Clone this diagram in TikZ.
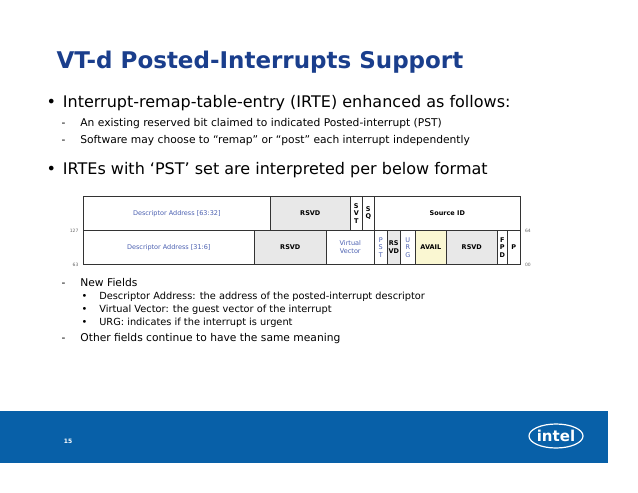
\documentclass[tikz,border=0pt]{standalone}
\usepackage{fontspec}
\setmainfont{DejaVu Sans}
\usetikzlibrary{positioning}
\definecolor{titleblue}{HTML}{1A3E8C}
\definecolor{intelblue}{HTML}{0860A8}
\definecolor{fieldblue}{HTML}{4A5FB0}
\definecolor{rsvdgray}{HTML}{E8E8E8}
\definecolor{availyellow}{HTML}{FAF7D2}
\tikzset{
  field/.style={draw=black!80, line width=0.6pt, anchor=north west, inner sep=0pt, align=center, font=\fontsize{6.5}{7.5}\selectfont},
  rsvd/.style={field, fill=rsvdgray, font=\fontsize{6.5}{7.5}\selectfont\bfseries},
  blue field/.style={field, text=fieldblue},
  bitno/.style={font=\fontsize{4.5}{5}\selectfont, text=black!60},
  bullet/.style={anchor=west, font=\fontsize{16}{18}\selectfont},
  sub/.style={anchor=west, font=\fontsize{10.7}{12}\selectfont},
  item/.style={anchor=west, font=\fontsize{9.8}{11}\selectfont},
}
\newcommand{\fieldbox}[6]{% name, style, x1, x2, y, text
  \node[#2, minimum width=#4pt-#3pt, minimum height=34pt] (#1) at (#3, #5) {#6};}
\begin{document}
\begin{tikzpicture}[x=1pt, y=-1pt]
    \useasboundingbox (0,0) rectangle (638,493);

    % Title and bullets
    \node[anchor=west, text=titleblue, font=\fontsize{23}{25}\selectfont\bfseries] (title) at (53, 62) {VT-d Posted-Interrupts Support};
    \node[bullet] (b1) at (43, 103) {•\hspace{7pt}Interrupt-remap-table-entry (IRTE) enhanced as follows:};
    \node[sub] (s1) at (58, 124) {-\hspace{15pt}An existing reserved bit claimed to indicated Posted-interrupt (PST)};
    \node[sub] (s2) at (58, 141) {-\hspace{15pt}Software may choose to “remap” or “post” each interrupt independently};
    \node[bullet] (b2) at (43, 170) {•\hspace{7pt}IRTEs with ‘PST’ set are interpreted per below format};

    % Upper row (bits 127..64)
    \fieldbox{da1}{blue field}{83}{270}{196}{Descriptor Address [63:32]}
    \fieldbox{rs1}{rsvd}{270}{350}{196}{RSVD}
    \fieldbox{svt}{field}{350}{362}{196}{\bfseries S\\\bfseries V\\\bfseries T}
    \fieldbox{sq}{field}{362}{374}{196}{\bfseries S\\\bfseries Q}
    \fieldbox{sid}{field}{374}{520}{196}{\bfseries Source ID}

    % Lower row (bits 63..0)
    \fieldbox{da2}{blue field}{83}{254}{230}{Descriptor Address [31:6]}
    \fieldbox{rs2}{rsvd}{254}{326}{230}{RSVD}
    \fieldbox{vv}{blue field}{326}{374}{230}{Virtual\\Vector}
    \fieldbox{pst}{blue field}{374}{387}{230}{P\\S\\T}
    \fieldbox{rs3}{rsvd}{387}{400}{230}{RS\\VD}
    \fieldbox{urg}{blue field}{400}{415}{230}{U\\R\\G}
    \fieldbox{avail}{rsvd, fill=availyellow}{415}{446}{230}{AVAIL}
    \fieldbox{rs4}{rsvd}{446}{497}{230}{RSVD}
    \fieldbox{fpd}{field}{497}{507}{230}{\bfseries F\\\bfseries P\\\bfseries D}
    \fieldbox{p}{field}{507}{520}{230}{\bfseries P}

    % Bit numbers
    \node[bitno, left=1pt of da1.south west] (n127) {127};
    \node[bitno, right=1pt of sid.south east] (n64) {64};
    \node[bitno, left=1pt of da2.south west] (n63) {63};
    \node[bitno, right=1pt of p.south east] (n00) {00};

    % New fields list
    \node[sub] (s3) at (58, 283) {-\hspace{15pt}New Fields};
    \node[item] (t1) at (78, 297) {•\hspace{12pt}Descriptor Address: the address of the posted-interrupt descriptor};
    \node[item] (t2) at (78, 310) {•\hspace{12pt}Virtual Vector: the guest vector of the interrupt};
    \node[item] (t3) at (78, 323) {•\hspace{12pt}URG: indicates if the interrupt is urgent};
    \node[sub] (s4) at (58, 339) {-\hspace{15pt}Other fields continue to have the same meaning};

    % Footer band
    \fill[intelblue] (0, 411) rectangle (608, 463);
    \node[text=white, font=\fontsize{6}{7}\selectfont\bfseries] (page) at (68, 441) {15};
    \node[text=white, font=\fontsize{15}{16}\selectfont\bfseries] (logo) at (556, 436) {intel};
    \draw[white, line width=1.2pt] (logo.center) ellipse (27 and 12);
\end{tikzpicture}
\end{document}
